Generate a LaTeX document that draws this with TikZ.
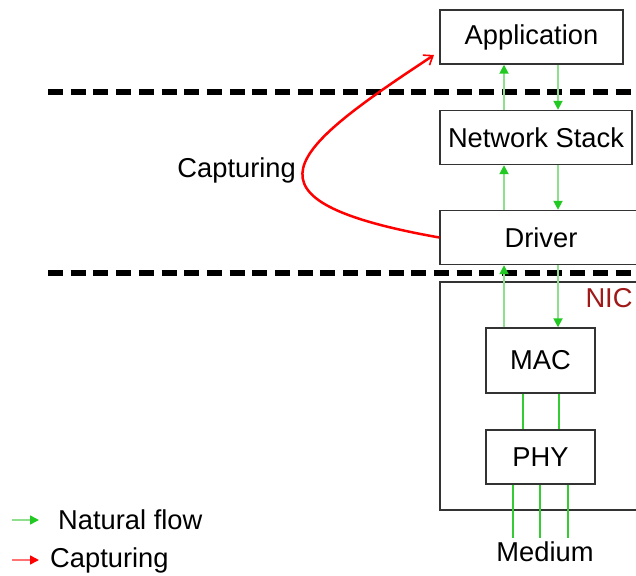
\documentclass[tikz,border=0pt]{standalone}
\usepackage{fontspec}
\setmainfont{Liberation Sans}
\usetikzlibrary{arrows.meta}
\definecolor{lgreen}{HTML}{8FDF8F}
\definecolor{tgreen}{HTML}{22C922}
\definecolor{mgreen}{HTML}{33CC33}
\definecolor{boxgray}{HTML}{333333}
\definecolor{nicred}{HTML}{A01818}
\tikzset{
  layerbox/.style={draw=boxgray, line width=1.4pt, inner sep=0pt, font=\fontsize{27.3}{31}\selectfont},
  flow/.style={draw=lgreen, line width=1.8pt, -{Triangle[length=9pt,width=9pt,fill=tgreen,color=tgreen]}},
  wire/.style={draw=mgreen, line width=1.7pt},
  sep/.style={draw=black, line width=5.5pt, dash pattern=on 15pt off 7.7pt},
  capt/.style={draw=red, line width=2.5pt, -{Straight Barb[length=8pt,width=12pt,line width=1.6pt]}},
  lbl/.style={font=\fontsize{27.3}{31}\selectfont, inner sep=0pt}
}
\begin{document}
\begin{tikzpicture}[x=1pt,y=-1pt]
\useasboundingbox (0,0) rectangle (636,575);
% dashed separators
\coordinate (s1l) at (48,92);
\coordinate (s1r) at (640,92);
\coordinate (s2l) at (48,273);
\coordinate (s2r) at (640,273);
\draw[sep] (s1l) -- (s1r);
\draw[sep] (s2l) -- (s2r);
% boxes
\node[layerbox, minimum width=183pt, minimum height=54pt] (app) at (531.5,37) {Application};
\node[layerbox, minimum width=192pt, minimum height=54pt] (ns) at (536,137.5) {Network Stack};
\node[layerbox, minimum width=202pt, minimum height=54pt] (drv) at (541,237.5) {Driver};
\node[draw=boxgray, line width=1.4pt, minimum width=240pt, minimum height=228pt, inner sep=0pt] (nic) at (560,396) {};
\node[lbl, text=nicred] (niclbl) at (609,298) {NIC};
\node[layerbox, minimum width=109pt, minimum height=65pt] (mac) at (540.5,360.5) {MAC};
\node[layerbox, minimum width=109pt, minimum height=54pt] (phy) at (540.5,457) {PHY};
\node[lbl] (med) at (545,552) {Medium};
% flow columns
\coordinate (up) at (504,0);
\coordinate (dn) at (558,0);
\draw[flow] (ns.north -| up) -- (app.south -| up);
\draw[flow] (app.south -| dn) -- (ns.north -| dn);
\draw[flow] (drv.north -| up) -- (ns.south -| up);
\draw[flow] (ns.south -| dn) -- (drv.north -| dn);
\draw[flow] (mac.north -| up) -- (drv.south -| up);
\draw[flow] (drv.south -| dn) -- (mac.north -| dn);
% MAC-PHY wires
\coordinate (w1) at (523,0);
\coordinate (w2) at (559,0);
\draw[wire] (mac.south -| w1) -- (phy.north -| w1);
\draw[wire] (mac.south -| w2) -- (phy.north -| w2);
% PHY-Medium wires
\coordinate (m1) at (513,0);
\coordinate (m2) at (540,0);
\coordinate (m3) at (568,0);
\coordinate (mb) at (0,538);
\draw[wire] (phy.south -| m1) -- (mb -| m1);
\draw[wire] (phy.south -| m2) -- (mb -| m2);
\draw[wire] (phy.south -| m3) -- (mb -| m3);
% capturing curve
\coordinate (cs) at (drv.west);
\coordinate (ce) at (434,55);
\draw[capt] (cs) .. controls (228,200) and (290,150) .. (ce);
\node[lbl, anchor=east] (captlbl) at (296,170) {Capturing};
% legend
\coordinate (g1) at (12,520);
\coordinate (g2) at (39,520);
\coordinate (r1) at (12,560);
\coordinate (r2) at (39,560);
\draw[draw=lgreen, line width=1.6pt, -{Triangle[length=9pt,width=9pt,fill=tgreen,color=tgreen]}] (g1) -- (g2);
\draw[draw=red!55, line width=1.6pt, -{Triangle[length=9pt,width=9pt,fill=red,color=red]}] (r1) -- (r2);
\node[lbl, anchor=west] (lg1) at (58,520) {Natural flow};
\node[lbl, anchor=west] (lg2) at (50,560) {Capturing};
\end{tikzpicture}
\end{document}
